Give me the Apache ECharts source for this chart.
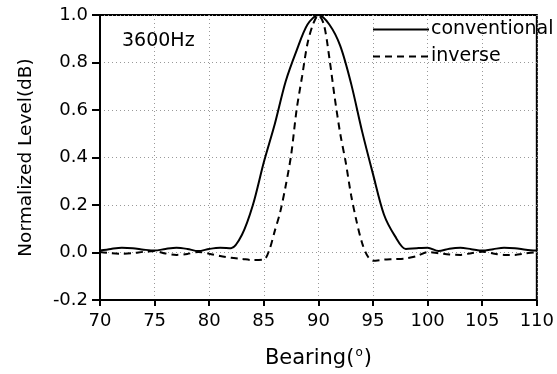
<!DOCTYPE html>
<html>
<head>
<meta charset="utf-8">
<script src="https://cdn.jsdelivr.net/npm/echarts@6/dist/echarts.min.js"></script>
<style>
  html, body { margin: 0; padding: 0; background: #fff; }
  #chart { width: 557px; height: 374px; }
</style>
</head>
<body>
<div id="chart"></div>
<script>
// bearing (deg) / normalized level
const convBearing = [70, 71, 72, 73, 74, 75, 76, 77, 78, 79, 80, 81, 82, 83, 84, 85, 86, 87, 88, 89, 90,
  91, 92, 93, 94, 95, 96, 97, 98, 99, 100, 101, 102, 103, 104, 105, 106, 107, 108, 109, 110]
const convLevel = [0.008, 0.015, 0.02, 0.018, 0.012, 0.008, 0.015, 0.02, 0.015, 0.006, 0.015, 0.02, 0.018, 0.075, 0.2, 0.38, 0.54, 0.72, 0.85, 0.96, 1.0,
  0.96, 0.87, 0.71, 0.51, 0.33, 0.16, 0.07, 0.015, 0.018, 0.02, 0.006, 0.016, 0.02, 0.014, 0.008, 0.014, 0.02, 0.018, 0.012, 0.008]

const invBearing = [70, 71, 72, 73, 74, 75, 76, 77, 78, 79, 80, 81, 82, 83, 84, 85, 85.5, 86, 86.5, 87, 87.5, 88, 88.5, 89, 89.5, 90,
  90.5, 91, 91.5, 92, 92.5, 93, 93.5, 94, 94.5, 95, 96, 97, 98, 99, 100, 101, 102, 103, 104, 105, 106, 107, 108, 109, 110]
const invLevel = [0.002, -0.003, -0.005, -0.003, 0.003, 0.006, -0.004, -0.01, -0.006, 0.002, -0.005, -0.015, -0.022, -0.027, -0.032, -0.03, 0.01, 0.09, 0.17, 0.28, 0.41, 0.6, 0.74, 0.88, 0.96, 1.0,
  0.96, 0.82, 0.65, 0.5, 0.38, 0.24, 0.13, 0.04, -0.015, -0.035, -0.03, -0.028, -0.025, -0.015, 0.002, -0.003, -0.008, -0.01, -0.003, 0.003, -0.004, -0.01, -0.01, -0.004, 0.002]

const xTicks = { min: 70, max: 110, step: 5 }
const yTicks = { min: -0.2, max: 1.0, step: 0.2 }

const font = '"DejaVu Sans", sans-serif'
const pairs = (xs, ys) => xs.map((x, i) => [x, ys[i]])

const chart = echarts.init(document.getElementById('chart'))

chart.setOption({
  animation: false,
  title: {
    text: '3600Hz',
    left: 117,
    top: 27,
    textStyle: { fontFamily: font, fontSize: 19, fontWeight: 'normal', color: '#000' }
  },
  legend: {
    left: 367,
    top: 15,
    orient: 'vertical',
    itemWidth: 56,
    itemHeight: 14,
    itemGap: 8,
    itemStyle: { opacity: 0 },
    textStyle: { fontFamily: font, fontSize: 19, color: '#000', padding: [0, 0, 0, -3] },
    data: ['conventional', 'inverse']
  },
  grid: {
    left: 100,
    right: 20,
    top: 15,
    bottom: 72,
    show: true,
    borderColor: '#000',
    borderWidth: 2
  },
  xAxis: {
    type: 'value',
    min: xTicks.min,
    max: xTicks.max,
    interval: xTicks.step,
    name: 'Bearing({s|o})',
    nameLocation: 'middle',
    nameGap: 47,
    nameTextStyle: {
      fontFamily: font, fontSize: 21, color: '#000',
      rich: { s: { fontFamily: font, fontSize: 12, color: '#000', padding: [0, 1, 11, 1] } }
    },
    axisLine: { onZero: false, lineStyle: { color: '#000', width: 2 } },
    axisTick: { inside: false, length: 6, lineStyle: { color: '#000', width: 2 } },
    axisLabel: { fontFamily: font, fontSize: 18, color: '#000', margin: 12 },
    splitLine: { show: true, lineStyle: { color: '#999', type: [1, 3], width: 1 } }
  },
  yAxis: {
    type: 'value',
    min: yTicks.min,
    max: yTicks.max,
    interval: yTicks.step,
    name: 'Normalized Level(dB)',
    nameLocation: 'middle',
    nameGap: 64,
    nameTextStyle: { fontFamily: font, fontSize: 18.5, color: '#000' },
    axisLine: { show: true, lineStyle: { color: '#000', width: 2 } },
    axisTick: { show: true, inside: false, length: 8, lineStyle: { color: '#000', width: 2 } },
    axisLabel: { fontFamily: font, fontSize: 18, color: '#000', margin: 12, formatter: v => v.toFixed(1) },
    splitLine: { show: true, lineStyle: { color: '#999', type: [1, 3], width: 1 } }
  },
  series: [
    {
      name: 'conventional',
      type: 'line',
      symbol: 'none',
      smooth: 0.3,
      data: pairs(convBearing, convLevel),
      lineStyle: { color: '#000', width: 2 },
      itemStyle: { color: '#000' }
    },
    {
      name: 'inverse',
      type: 'line',
      symbol: 'none',
      smooth: 0.3,
      data: pairs(invBearing, invLevel),
      lineStyle: { color: '#000', width: 2, type: [7, 5] },
      itemStyle: { color: '#000' }
    }
  ]
})
</script>
</body>
</html>
